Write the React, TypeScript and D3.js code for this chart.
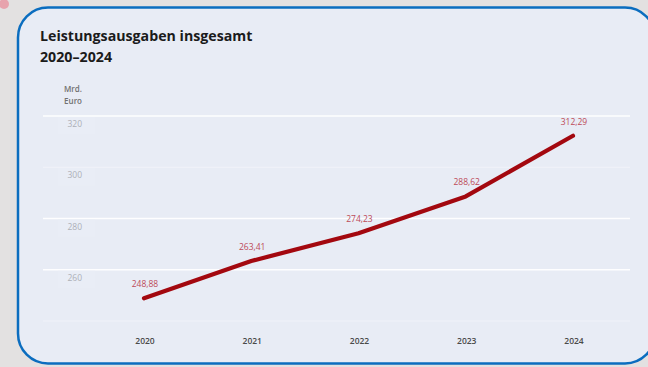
import React from "react";
import * as d3 from "d3";

const years = ["2020", "2021", "2022", "2023", "2024"];
const values = [248.88, 263.41, 274.23, 288.62, 312.29];
const valueLabels = ["248,88", "263,41", "274,23", "288,62", "312,29"];
const yTicks = [320, 300, 280, 260];
const gridValues = [320, 300, 280, 260, 240];
const title = ["Leistungsausgaben insgesamt", "2020–2024"];
const unit = ["Mrd.", "Euro"];

export default function App() {
  const W = 648, H = 367;
  const x = d3.scalePoint<string>().domain(years).range([144, 573]);
  const y = d3.scaleLinear().domain([240, 320]).range([321, 116]);
  const line = d3.line<number>().x((_, i) => x(years[i])!).y(v => y(v)).curve(d3.curveLinear);
  const font = "'Open Sans', 'Noto Sans', sans-serif";
  return (
    <svg width={W} height={H} style={{ position: "fixed", left: 0, top: 0 }} fontFamily={font}>
      <rect x={0} y={0} width={W} height={H} fill="#e3e1e1" />
      <circle cx={4} cy={4} r={5} fill="#e7a3ad" />
      <rect x={18} y={7.5} width={637} height={356} rx={30} ry={30} fill="#e8ecf5" stroke="#0b6dbf" strokeWidth={2.5} />
      {title.map((t, i) => (
        <text key={t} x={40} y={40.5 + i * 21.5} fontSize={14.2} fontWeight={700} fill="#1b1b1b">{t}</text>
      ))}
      {unit.map((t, i) => (
        <text key={t} x={82} y={92 + i * 12} fontSize={8} fontWeight={600} fill="#707070" textAnchor="end">{t}</text>
      ))}
      {gridValues.map(v => (
        <line key={v} x1={43} x2={630} y1={y(v)} y2={y(v)} stroke="#ffffff"
          strokeWidth={v === 300 || v === 240 ? 0.8 : 1.4} strokeOpacity={v === 300 || v === 240 ? 0.5 : 0.95} />
      ))}
      {yTicks.map(v => (
        <g key={v}>
          <rect x={58} y={y(v) + 1} width={37} height={17} fill="#e9edf6" />
          <text x={82} y={y(v) + 11} fontSize={8.5} fill="#adb0b8" textAnchor="end">{v}</text>
        </g>
      ))}
      <path d={line(values) || ""} fill="none" stroke="#a3080f" strokeWidth={4.2} strokeLinecap="round" strokeLinejoin="round" />
      {values.map((v, i) => (
        <text key={i} x={x(years[i])! + 1} y={y(v) - 11} fontSize={8.5} fill="#bd4a58" textAnchor="middle">{valueLabels[i]}</text>
      ))}
      {years.map(yr => (
        <text key={yr} x={x(yr)! + 1} y={344} fontSize={8.5} fontWeight={600} fill="#4a4a4a" textAnchor="middle">{yr}</text>
      ))}
    </svg>
  );
}
